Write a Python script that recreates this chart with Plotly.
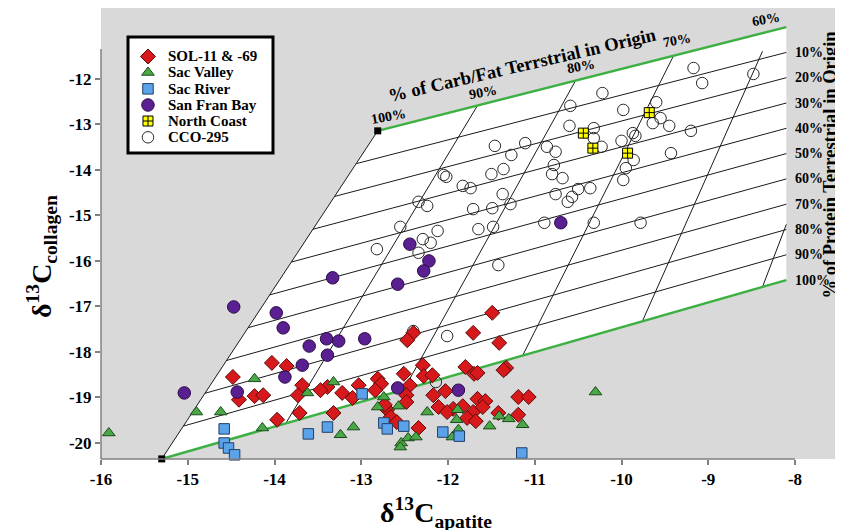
import plotly.graph_objects as go

# ---------------- data ----------------
series_names = ["SOL-11 & -69", "Sac Valley", "Sac River", "San Fran Bay", "North Coast", "CCO-295"]

sol_x = [-11.49, -11.71, -12.40, -12.47, -11.41, -11.80, -11.70, -11.66, -11.33, -12.29,
         -12.28, -12.18, -12.51, -12.44, -12.48, -12.81, -12.77, -13.03, -12.84, -13.10,
         -13.22, -13.39, -13.47, -13.68, -13.73, -13.86, -14.03, -14.48, -14.41, -14.23,
         -14.13, -13.71, -13.97, -13.32, -12.17, -12.03, -11.83, -11.94, -12.11, -12.48,
         -12.70, -12.66, -12.59, -12.34, -11.66, -11.57, -11.71, -11.78, -11.68, -11.42,
         -11.19, -11.07, -11.19, -12.01, -12.73, -11.60, -11.36]
sol_y = [-17.14, -17.58, -17.58, -17.74, -17.80, -18.33, -18.48, -18.46, -18.35, -18.29,
         -18.53, -18.51, -18.48, -18.73, -18.95, -18.59, -18.70, -18.73, -18.84, -19.01,
         -18.90, -18.77, -18.84, -18.73, -18.95, -18.31, -18.24, -18.55, -19.05, -18.97,
         -18.95, -19.34, -19.49, -19.34, -18.95, -18.86, -19.19, -19.25, -19.21, -19.10,
         -19.27, -19.43, -19.54, -19.67, -19.03, -19.08, -19.32, -19.45, -19.52, -19.34,
         -18.99, -18.99, -19.38, -19.32, -19.16, -19.21, -18.40]

sacv_x = [-15.91, -14.90, -14.62, -14.23, -14.14, -13.62, -13.32, -13.24, -13.09, -12.74,
          -12.81, -12.57, -12.54, -12.55, -12.46, -12.37, -12.24, -11.89, -11.90, -11.95,
          -11.88, -11.52, -11.41, -11.30, -11.14, -10.30]
sacv_y = [-19.78, -19.32, -19.32, -18.59, -19.67, -18.90, -18.66, -19.82, -19.65, -18.99,
          -19.21, -19.19, -20.00, -20.09, -19.89, -19.87, -19.32, -19.27, -19.49, -19.87,
          -19.71, -19.63, -19.41, -19.47, -19.60, -18.88]

sacr_x = [-14.58, -14.58, -14.53, -14.46, -13.61, -13.39, -12.99, -12.74, -12.70, -12.51,
          -12.06, -11.87, -11.15]
sacr_y = [-19.69, -20.00, -20.11, -20.26, -19.80, -19.65, -18.92, -19.56, -19.69, -19.63,
          -19.76, -19.85, -20.22]

sfb_x = [-12.44, -12.22, -12.28, -13.33, -12.58, -14.47, -13.98, -13.90, -13.60, -13.40,
         -13.26, -12.96, -13.39, -13.68, -13.88, -14.43, -15.04, -12.58, -11.88, -10.70]
sfb_y = [-15.63, -16.00, -16.22, -16.37, -16.51, -17.01, -17.14, -17.47, -17.87, -17.71,
         -17.76, -17.71, -18.07, -18.29, -18.55, -18.88, -18.90, -18.79, -18.84, -15.16]

nc_x = [-9.68, -10.44, -10.33, -9.93]
nc_y = [-12.74, -13.19, -13.52, -13.63]

cco_x = [-9.17, -9.07, -8.48, -10.22, -10.59, -9.98, -9.60, -10.60, -10.32, -9.64,
         -9.55, -9.45, -9.20, -9.87, -9.84, -10.32, -10.00, -10.23, -11.11, -11.46,
         -10.86, -10.76, -11.27, -9.43, -9.86, -11.36, -11.50, -10.78, -10.80, -10.68,
         -9.95, -9.98, -12.05, -12.02, -11.83, -11.74, -11.37, -11.28, -11.71, -11.49,
         -10.76, -10.50, -10.36, -10.57, -10.62, -10.89, -11.65, -11.48, -10.32, -9.78,
         -12.34, -12.24, -12.55, -12.12, -12.29, -12.20, -12.34, -12.82, -11.42, -12.40,
         -12.01, -12.14]
cco_y = [-11.76, -12.09, -11.89, -12.31, -12.59, -12.68, -12.51, -13.03, -13.08, -12.97,
         -12.86, -13.03, -13.14, -13.19, -13.25, -13.30, -13.36, -13.49, -13.41, -13.47,
         -13.49, -13.60, -13.67, -13.63, -13.78, -13.98, -14.09, -13.89, -14.09, -14.18,
         -13.96, -14.22, -14.11, -14.15, -14.35, -14.40, -14.53, -14.75, -14.86, -14.84,
         -14.53, -14.42, -14.40, -14.59, -14.70, -15.16, -15.30, -15.25, -15.16, -15.16,
         -14.70, -14.79, -15.25, -15.34, -15.52, -15.60, -15.82, -15.74, -16.09, -17.54,
         -17.65, -18.66]

# model diagram (mixing frame) in data units
frame_bottom_left = (-15.30, -20.35)   # 100% carb/fat, 100% protein terrestrial
frame_top_left = (-12.81, -13.14)      # 100% carb/fat, 0% protein terrestrial
frame_right_x = -8.10
frame_right_top_y = -10.86
frame_right_bottom_y = -16.42

protein_labels = ["10%", "20%", "30%", "40%", "50%", "60%", "70%", "80%", "90%", "100%"]
protein_fracs = [0.1, 0.2, 0.3, 0.4, 0.5, 0.6, 0.7, 0.8, 0.9, 1.0]

carb_labels = ["100%", "90%", "80%", "70%", "60%", "50%"]
carb_top_x = [-12.81, -11.66, -10.53, -9.40, -8.27, -7.14]
carb_bot_x = [-15.30, -13.87, -12.51, -11.14, -9.76, -8.375]
carb_top_frac = [1.0, 1.0, 1.0, 1.0, 0.93, 1.0]

x_ticks = [-16, -15, -14, -13, -12, -11, -10, -9, -8]
y_ticks = [-20, -19, -18, -17, -16, -15, -14, -13, -12]

# ---------------- geometry helpers ----------------
Ax, Ay = frame_bottom_left
Bx, By = frame_top_left
Cx, Cy = frame_right_x, frame_right_top_y
Dx, Dy = frame_right_x, frame_right_bottom_y
su = (Cy - By) / (Cx - Bx)
sl = (Dy - Ay) / (Dx - Ax)
def y_up(x):
    return By + (x - Bx) * su
def y_lo(x):
    return Ay + (x - Ax) * sl

SERIF = "Liberation Serif"
BOLD = dict(family=SERIF, color="black", weight="bold")

shapes = []
# legend box (below traces so the legend markers show)
shapes.append(dict(type="rect", xref="paper", yref="paper", x0=0.0364, x1=0.2318,
                   y0=0.6785, y1=0.9357, fillcolor="white", layer="below",
                   line=dict(color="black", width=3)))
shapes.append(dict(type="path", xref="x", yref="y", layer="below",
                   path=f"M {Ax},{Ay} L {Bx},{By} L {Cx},{Cy} L {Dx},{Dy} Z",
                   fillcolor="white", line=dict(width=0)))
LINE = dict(color="#1a1a1a", width=1)
# protein lines
for p in protein_fracs[:-1]:
    lx, ly = Bx + p * (Ax - Bx), By + p * (Ay - By)
    rx, ry = Cx, Cy + p * (Dy - Cy)
    shapes.append(dict(type="line", xref="x", yref="y", layer="below",
                       x0=lx, y0=ly, x1=rx, y1=ry, line=LINE))
# left edge (100% carb/fat) and other carb lines
for tx, bx, f in zip(carb_top_x, carb_bot_x, carb_top_frac):
    x0, y0 = bx, y_lo(bx)
    x1, y1 = tx, y_up(tx)
    x1, y1 = x0 + f * (x1 - x0), y0 + f * (y1 - y0)
    if x1 > frame_right_x:
        t = (frame_right_x - x0) / (x1 - x0)
        x1, y1 = frame_right_x, y0 + t * (y1 - y0)
    shapes.append(dict(type="line", xref="x", yref="y", layer="below",
                       x0=x0, y0=y0, x1=x1, y1=y1, line=LINE))
GREEN = dict(color="#3cb043", width=2.5)
shapes.append(dict(type="line", xref="x", yref="y", layer="below",
                   x0=Bx, y0=By, x1=Cx, y1=Cy, line=GREEN))
shapes.append(dict(type="line", xref="x", yref="y", layer="below",
                   x0=Ax, y0=Ay, x1=Dx, y1=Dy, line=GREEN))

# custom axis lines (partial, like the original)
AXC = "#808080"
shapes.append(dict(type="line", xref="paper", yref="paper", x0=0, x1=0, y0=0, y1=0.909,
                   line=dict(color=AXC, width=1.5)))
shapes.append(dict(type="line", xref="paper", yref="paper", x0=0, x1=0.9353, y0=0, y1=0,
                   line=dict(color=AXC, width=1.5)))

styles = [
    dict(symbol="diamond", size=11.5, color="#d7191c", line=dict(color="#5c0a0a", width=1)),
    dict(symbol="triangle-up", size=11, color="#4aa846", line=dict(color="#1d4a1d", width=1)),
    dict(symbol="square", size=10.5, color="#5aa3ea", line=dict(color="#233f66", width=1)),
    dict(symbol="circle", size=12.5, color="#5a1f91", line=dict(color="#2a0b45", width=1)),
    dict(symbol="square-cross", size=10, color="#ffff00", line=dict(color="black", width=1)),
    dict(symbol="circle-open", size=11.5, color="#2a2a2a", line=dict(width=1)),
]
data_xy = [(sol_x, sol_y), (sacv_x, sacv_y), (sacr_x, sacr_y),
           (sfb_x, sfb_y), (nc_x, nc_y), (cco_x, cco_y)]

fig = go.Figure()
draw_order = [5, 0, 1, 2, 3, 4]
for i in draw_order:
    xs, ys = data_xy[i]
    fig.add_trace(go.Scatter(x=xs, y=ys, mode="markers", name=series_names[i],
                             marker=styles[i], showlegend=False, hoverinfo="x+y",
                             cliponaxis=False))

# model end points
fig.add_trace(go.Scatter(x=[Ax, Bx], y=[Ay, By], mode="markers", showlegend=False,
                         cliponaxis=False,
                         marker=dict(symbol="square", size=7, color="black")))

# legend markers on overlay axes (0..1 = plot area)
leg_rows = [0.8925, 0.857, 0.8208, 0.7849, 0.7494, 0.7133]
for i, name in enumerate(series_names):
    fig.add_trace(go.Scatter(x=[0.0633], y=[leg_rows[i]], mode="markers", xaxis="x2", yaxis="y2",
                             marker=styles[i], showlegend=False, hoverinfo="skip"))

annotations = []
for i, name in enumerate(series_names):
    annotations.append(dict(xref="paper", yref="paper", x=0.0876, y=leg_rows[i], text=name,
                            showarrow=False, xanchor="left", yanchor="middle",
                            font=dict(BOLD, size=15)))
# protein labels at right
for p, lab in zip(protein_fracs, protein_labels):
    annotations.append(dict(xref="paper", yref="y", x=0.9326, y=Cy + p * (Dy - Cy), text=lab,
                            showarrow=False, xanchor="left", yanchor="middle",
                            font=dict(BOLD, size=14)))
# carb labels at top
xsh = [11, 5, 5, 3, -6]
ysh = [14, 13, 14, 15, 11]
for k in range(5):
    tx = carb_top_x[k]
    annotations.append(dict(xref="x", yref="y", x=tx, y=y_up(tx), text=carb_labels[k],
                            showarrow=False, xshift=xsh[k], yshift=ysh[k], textangle=-10,
                            xanchor="center", yanchor="middle",
                            font=dict(BOLD, size=14)))
annotations.append(dict(xref="paper", yref="paper", x=0.5687, y=0.8736,
                        text="% of Carb/Fat Terrstrial in Origin", showarrow=False,
                        xanchor="center", yanchor="middle",
                        textangle=-13, font=dict(BOLD, size=18.5)))
annotations.append(dict(xref="paper", yref="paper", x=0.983, y=0.654,
                        text="% of Protein Terrestrial in Origin", showarrow=False,
                        xanchor="center", yanchor="middle",
                        textangle=-90, font=dict(BOLD, size=18.5)))
annotations.append(dict(xref="paper", yref="paper", x=0.4515, y=-0.1197,
                        text="δ<sup>13</sup>C<sub>apatite</sub>", showarrow=False,
                        xanchor="center", yanchor="middle",
                        font=dict(BOLD, size=28)))
annotations.append(dict(xref="paper", yref="paper", x=-0.0795, y=0.4479,
                        text="δ<sup>13</sup>C<sub>collagen</sub>", showarrow=False,
                        xanchor="center", yanchor="middle",
                        textangle=-90, font=dict(BOLD, size=28)))

fig.update_layout(
    width=843, height=530,
    margin=dict(l=93, r=8, t=0, b=79),
    paper_bgcolor="white", plot_bgcolor="#d9d9d9",
    showlegend=False,
    xaxis=dict(range=[-16, -7.447], tickvals=x_ticks, ticktext=[str(v) for v in x_ticks],
               showgrid=False, zeroline=False, showline=False, ticks="outside",
               ticklen=5, tickwidth=1.5, tickcolor=AXC, tickfont=dict(BOLD, size=17)),
    yaxis=dict(range=[-20.352, -10.44], tickvals=y_ticks, ticktext=[str(v) for v in y_ticks],
               showgrid=False, zeroline=False, showline=False, ticks="outside",
               ticklen=5, tickwidth=1.5, tickcolor=AXC, tickfont=dict(BOLD, size=17)),
    xaxis2=dict(range=[0, 1], overlaying="x", visible=False, anchor="y2"),
    yaxis2=dict(range=[0, 1], overlaying="y", visible=False, anchor="x2"),
    shapes=shapes, annotations=annotations,
)
fig.write_html("out.html")
